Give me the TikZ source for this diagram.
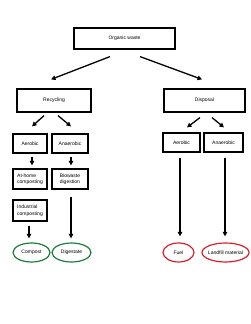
\documentclass[tikz,border=0pt]{standalone}
\usepackage{fontspec}
\setmainfont{Liberation Sans}
\usetikzlibrary{arrows.meta, positioning, shapes.geometric, calc}

\definecolor{keepgreen}{HTML}{1C7D3A}
\definecolor{lossred}{HTML}{D9202A}

\begin{document}
\begin{tikzpicture}[
    x=1pt, y=-1pt,
    every node/.style={font=\fontsize{5}{6.5}\selectfont},
    box/.style={rectangle, draw, line width=1.2pt, inner sep=1pt, align=center},
    stepbox/.style={box, align=left},
    result/.style={ellipse, draw, line width=1.2pt, inner xsep=-6pt, inner ysep=0pt, minimum height=19pt},
    arrow/.style={-{Triangle[length=4.5pt, width=4.5pt]}, line width=1.3pt}
]
\useasboundingbox (0, 0) rectangle (250, 324);

% ============ TOP ============
\node[box, minimum width=101pt, minimum height=21pt] (waste) at (124.5, 38.5) {Organic waste};

\node[box, minimum width=74pt, minimum height=23pt] (recyc) at (54, 100.5) {Recycling};
\node[box, minimum width=81pt, minimum height=23pt] (disp) at (204.5, 100.5) {Disposal};

\draw[arrow] ($(waste.south) + (-14.5, 7)$) -- ($(recyc.north) + (-3, -9)$);
\draw[arrow] ($(waste.south) + (15.5, 7)$) -- ($(disp.north) + (-2.5, -9)$);

% ============ RECYCLING (LEFT) ============
\node[box, minimum width=34pt, minimum height=19pt] (raer) at (30, 143.5) {Aerobic};
\node[box, minimum width=36pt, minimum height=19pt] (rana) at (70, 143.5) {Anaerobic};

\draw[arrow] ($(recyc.south) + (-10, 3)$) -- ($(raer.north) + (2, -7)$);
\draw[arrow] ($(recyc.south) + (4, 3)$) -- ($(rana.north) + (1, -7)$);

\node[stepbox, minimum width=34pt, minimum height=20pt] (home) at (30, 179) {At-home\\composting};
\node[stepbox, minimum width=36pt, minimum height=20pt] (bio) at (70, 179) {Biowaste\\digestion};
\node[stepbox, minimum width=34pt, minimum height=21pt] (ind) at (30, 210.5) {Industrial\\composting};

\draw[arrow] ($(raer.south) + (2, 3)$) -- ($(home.north) + (2, -3)$);
\draw[arrow] ($(rana.south) + (1, 3)$) -- ($(bio.north) + (1, -3)$);

\node[result, draw=keepgreen, minimum width=37pt] (compost) at (31.5, 252.5) {Compost};
\node[result, draw=keepgreen, minimum width=39pt] (digest) at (71.5, 252.5) {Digestate};

\draw[arrow] ($(ind.south) + (-1, 4)$) -- ($(ind.south |- compost.north) + (-1, -4)$);
\draw[arrow] ($(bio.south) + (1, 7)$) -- ($(bio.south |- digest.north) + (1, -4)$);

% ============ DISPOSAL (RIGHT) ============
\node[box, minimum width=37pt, minimum height=19pt] (daer) at (181.5, 142.5) {Aerobic};
\node[box, minimum width=39pt, minimum height=19pt] (dana) at (223.5, 142.5) {Anaerobic};

\draw[arrow] ($(disp.south) + (-4.5, 5)$) -- ($(daer.north) + (5.5, -5)$);
\draw[arrow] ($(disp.south) + (7.5, 5)$) -- ($(dana.north) + (0.5, -5)$);

\node[result, draw=lossred, minimum width=31pt] (fuel) at (178.5, 252.5) {Fuel};
\node[result, draw=lossred, minimum width=47pt] (landfill) at (225.5, 252.5) {Landfill material};

\draw[arrow] ($(daer.south) + (-1.5, 5)$) -- ($(daer.south |- fuel.north) + (-1.5, -6)$);
\draw[arrow] ($(dana.south) + (1.5, 5)$) -- ($(dana.south |- landfill.north) + (1.5, -6)$);

\end{tikzpicture}
\end{document}
